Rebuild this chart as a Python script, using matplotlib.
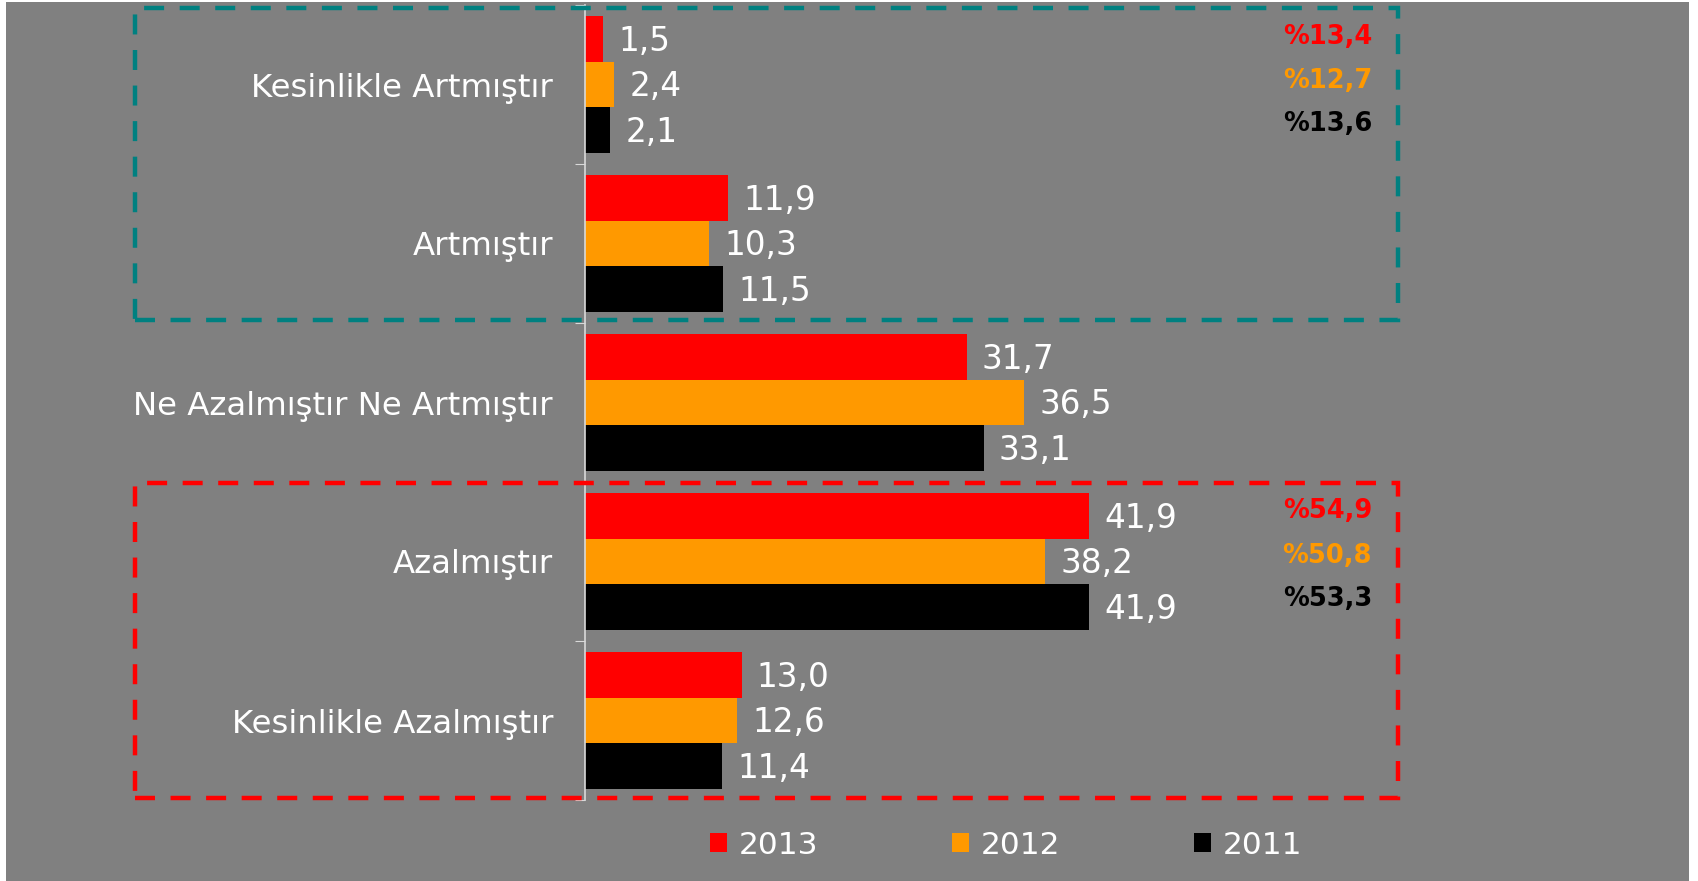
import matplotlib.pyplot as plt
from matplotlib.patches import Rectangle

# Données
categories = ["Kesinlikle Artmıştır", "Artmıştır", "Ne Azalmıştır Ne Artmıştır",
              "Azalmıştır", "Kesinlikle Azalmıştır"]
years = ["2013", "2012", "2011"]
values_2013 = [1.5, 11.9, 31.7, 41.9, 13.0]
values_2012 = [2.4, 10.3, 36.5, 38.2, 12.6]
values_2011 = [2.1, 11.5, 33.1, 41.9, 11.4]
totals_up = ["%13,4", "%12,7", "%13,6"]
totals_down = ["%54,9", "%50,8", "%53,3"]

colors = ["#ff0000", "#ff9900", "#000000"]
W, H = 1698, 881

fig = plt.figure(figsize=(W / 100, H / 100), dpi=100, facecolor="white")
# fond gris
fig.add_artist(Rectangle((6 / W, 0), (1689 - 6) / W, (H - 2) / H,
                         transform=fig.transFigure, facecolor="#808080",
                         edgecolor="none", zorder=0))

ax = fig.add_axes([585 / W, 81 / H, 65 * 12.04 / W, (876 - 81) / H])
ax.set_facecolor("none")

h = 0.2857
series = [values_2013, values_2012, values_2011]
for i, (vals, col, yr) in enumerate(zip(series, colors, years)):
    pos = [k + (i - 1) * h for k in range(len(categories))]
    bars = ax.barh(pos, vals, height=h, color=col, label=yr)
    for p, v in zip(pos, vals):
        ax.annotate(f"{v:.1f}".replace(".", ","), (v, p), xytext=(11, -1.5),
                    textcoords="offset points", ha="left", va="center",
                    color="white", fontsize=23.5, annotation_clip=False)

ax.set_xlim(0, 65)
ax.set_ylim(4.5, -0.5)
ax.set_xticks([])
ax.set_yticks([k - 0.5 for k in range(len(categories) + 1)])
ax.set_yticklabels([])
ax.set_yticks(range(len(categories)), minor=True)
ax.set_yticklabels(categories, minor=True)
ax.tick_params(axis="y", which="major", length=7, color="#d9d9d9", direction="out")
ax.tick_params(axis="y", which="minor", length=0, pad=23, labelsize=23.3,
               labelcolor="white")
for s in ["top", "right", "bottom"]:
    ax.spines[s].set_visible(False)
ax.spines["left"].set_color("#d9d9d9")
ax.spines["left"].set_linewidth(1.2)

# Totaux
for txt, y, col in zip(totals_up, [37, 81, 124], colors):
    fig.text(1372 / W, 1 - y / H, txt, ha="right", va="center", color=col,
             fontsize=18.5, fontweight="bold")
for txt, y, col in zip(totals_down, [511, 556, 599], colors):
    fig.text(1372 / W, 1 - y / H, txt, ha="right", va="center", color=col,
             fontsize=18.5, fontweight="bold")

# Cadres en pointillés
fig.add_artist(Rectangle((135 / W, 1 - 320 / H), (1398 - 135) / W, (320 - 8) / H,
                         transform=fig.transFigure, fill=False, edgecolor="#008080",
                         linewidth=3.2, linestyle=(0, (4.5, 3.5)), zorder=5))
fig.add_artist(Rectangle((135 / W, 1 - 798 / H), (1398 - 135) / W, (798 - 483) / H,
                         transform=fig.transFigure, fill=False, edgecolor="#ff0000",
                         linewidth=3.2, linestyle=(0, (4.5, 3.5)), zorder=5))

leg = fig.legend(loc="center", bbox_to_anchor=(1006 / W, 1 - 845 / H), ncol=3,
                 frameon=False, fontsize=22.5, labelcolor="white",
                 handlelength=0.55, handleheight=0.6, handletextpad=0.35,
                 columnspacing=4.3)

fig.savefig("out.png", dpi=100, facecolor="white")
